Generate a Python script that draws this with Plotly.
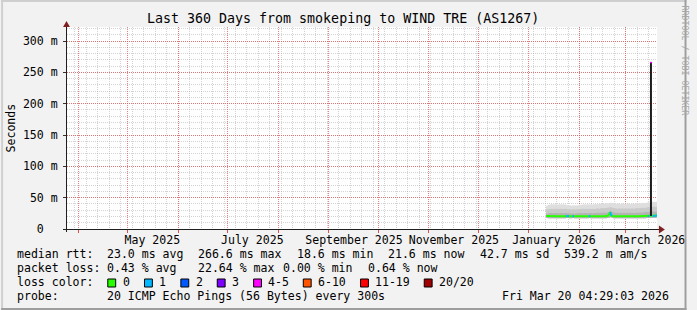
import plotly.graph_objects as go
import pandas as pd

# ---------------- data ----------------
# daily values from 2026-01-11 to 2026-03-20 (median RTT in ms, lost pings of 20)
median = [20.6, 20.4, 20.3, 20.2, 20.3, 20.4, 20.2, 20.3, 20.2, 20.3, 20.4, 20.3, 20.5, 20.6, 20.4, 20.3, 20.5, 20.3, 20.2, 20.3, 20.4,
          20.3, 20.2, 20.3, 20.4, 20.3, 20.6, 20.4, 20.3, 20.2, 20.3, 20.4, 20.3, 20.2, 20.3, 20.4, 20.3, 20.5, 21.5, 26.8, 21.0, 20.4, 20.3, 20.2, 20.3, 20.4, 20.3, 20.2, 20.3,
          20.4, 20.3, 20.2, 20.3, 20.4, 20.3, 20.2, 20.3, 20.4, 20.3, 20.2, 20.3, 20.5, 20.7, 20.5, 20.8, 20.9, 20.8, 21.0, 21.6]
loss = [0, 0, 0, 0, 0, 0, 0, 0, 0, 0, 0, 0, 1, 1, 0, 0, 1, 0, 0, 0, 0,
        0, 0, 0, 0, 0, 1, 0, 0, 0, 0, 0, 0, 0, 0, 0, 0, 0, 0, 1, 0, 0, 0, 0, 0, 0, 0, 0, 0,
        0, 0, 0, 0, 0, 0, 0, 0, 0, 0, 0, 0, 0, 1, 0, 0, 1, 1, 1, 1]
smoke_hi = [37.0, 38.5, 39.0, 39.5, 39.0, 39.5, 39.5, 39.0, 39.5, 39.0, 39.5, 39.0, 38.5, 38.0, 38.0, 37.5, 37.5, 38.0, 37.5, 38.0, 38.5,
            38.5, 39.0, 39.5, 39.0, 39.5, 39.0, 39.5, 39.0, 39.5, 40.0, 39.5, 40.0, 40.5, 40.0, 40.5, 41.0, 41.5, 41.0, 42.0, 41.5, 41.0, 40.5, 40.0, 40.5, 40.0, 40.5, 40.0, 40.5,
            40.0, 40.5, 40.0, 40.5, 40.0, 40.5, 41.0, 40.5, 41.0, 41.5, 41.0, 41.5, 42.0, 42.5, 42.0, 43.0, 43.5, 43.0, 43.5, 43.0]
smoke_p2 = [31.0, 31.5, 32.0, 32.5, 32.0, 32.5, 32.0, 32.5, 32.0, 32.5, 32.0, 32.5, 32.0, 31.5, 31.5, 31.0, 31.5, 31.0, 31.5, 31.5, 32.0,
            32.0, 32.5, 32.0, 32.5, 32.0, 32.5, 32.0, 32.5, 32.0, 32.5, 33.0, 32.5, 33.0, 33.5, 33.0, 33.5, 34.0, 34.5, 35.0, 34.0, 33.5, 33.0, 32.5, 33.0, 32.5, 33.0, 32.5, 33.0,
            32.5, 33.0, 32.5, 33.0, 32.5, 33.0, 33.5, 33.0, 33.5, 34.0, 33.5, 34.0, 34.5, 35.0, 34.5, 35.0, 35.5, 35.0, 35.5, 35.0]
smoke_p3 = [24.5, 25.0, 25.5, 25.5, 25.0, 25.5, 25.5, 25.0, 25.5, 25.5, 25.0, 25.5, 25.5, 25.0, 25.0, 24.5, 25.0, 24.5, 25.0, 25.0, 25.5,
            25.5, 25.0, 25.5, 25.5, 25.0, 25.5, 25.5, 25.0, 25.5, 25.5, 26.0, 25.5, 26.0, 26.0, 26.5, 26.0, 26.5, 27.0, 29.0, 27.0, 26.5, 26.0, 26.0, 25.5, 26.0, 25.5, 26.0, 25.5,
            26.0, 25.5, 26.0, 26.0, 25.5, 26.0, 26.0, 26.5, 26.0, 26.5, 26.5, 27.0, 27.0, 27.5, 27.0, 28.0, 28.0, 27.5, 28.0, 28.0]
smoke_lo = [17.5, 17.3, 17.2, 17.1, 17.2, 17.3, 17.1, 17.2, 17.1, 17.2, 17.3, 17.2, 17.4, 17.5, 17.3, 17.2, 17.4, 17.2, 17.1, 17.2, 17.3,
            17.2, 17.1, 17.2, 17.3, 17.2, 17.5, 17.3, 17.2, 17.1, 17.2, 17.3, 17.2, 17.1, 17.2, 17.3, 17.2, 17.4, 17.8, 18.6, 17.9, 17.3, 17.2, 17.1, 17.2, 17.3, 17.2, 17.1, 17.2,
            17.3, 17.2, 17.1, 17.2, 17.3, 17.2, 17.1, 17.2, 17.3, 17.2, 17.1, 17.2, 17.4, 17.6, 17.4, 17.7, 17.8, 17.7, 17.9, 18.6]
first_day = "2026-01-11 12:00"

spike_date = "2026-03-16 12:00"
spike_bottom = 20.8
spike_top = 266.6
spike_class = 4

x_start = "2025-03-25 04:29:03"
x_end = "2026-03-20 04:29:03"
month_ticks = ["2025-04-01", "2025-05-01", "2025-06-01", "2025-07-01", "2025-08-01", "2025-09-01",
               "2025-10-01", "2025-11-01", "2025-12-01", "2026-01-01", "2026-02-01", "2026-03-01"]
month_labels = ["", "May 2025", "", "July 2025", "", "September 2025",
                "", "November 2025", "", "January 2026", "", "March 2026"]
y_tickvals = [0, 50, 100, 150, 200, 250, 300]
y_ticktext = ["0\u00a0\u00a0", "50 m", "100 m", "150 m", "200 m", "250 m", "300 m"]

loss_labels = ["0", "1", "2", "3", "4-5", "6-10", "11-19", "20/20"]
loss_colors = ["#26ff00", "#00b8ff", "#0059ff", "#7e00ff", "#ff00ff", "#ff5500", "#ff0000", "#a10000"]

title_text = "Last 360 Days from smokeping to WIND TRE (AS1267)"
rtt_items = ["median rtt:", "23.0 ms avg", "266.6 ms max", "18.6 ms min", "21.6 ms now", "42.7 ms sd", "539.2 m am/s"]
loss_items = ["packet loss:", "0.43 % avg", "22.64 % max", "0.00 % min", "0.64 % now"]
probe_items = ["probe:", "20 ICMP Echo Pings (56 Bytes) every 300s", "Fri Mar 20 04:29:03 2026"]

# ---------------- layout geometry ----------------
W, H = 697, 310
L, R, T, B = 67, 30, 27, 81
PW, PH = W - L - R, H - T - B
YMAX = PH * 300.0 / 188.0

def px(x):
    return (x - L) / PW

def py(y):
    return (T + PH - y) / PH

MONO = "DejaVu Sans Mono"
FS = 11.55
GRID = "rgba(150,150,150,0.42)"
MGRID = "rgba(222,79,79,0.7)"

dates = pd.date_range(first_day, periods=len(median), freq="D")

fig = go.Figure()

# smoke bands
bands = [(smoke_hi, "#dedede"), (smoke_p2, "#cacaca"), (smoke_p3, "#b4b4b4")]
for top, col in bands:
    fig.add_trace(go.Scatter(x=dates, y=smoke_lo, mode="lines", line=dict(width=0, shape="hv"),
                             hoverinfo="skip", showlegend=False))
    fig.add_trace(go.Scatter(x=dates, y=top, mode="lines", line=dict(width=0, shape="hv"),
                             fill="tonexty", fillcolor=col, hoverinfo="skip", showlegend=False))

# median line, coloured by loss
fig.add_trace(go.Scatter(x=dates, y=median, mode="lines", line=dict(color=loss_colors[0], width=2),
                         hoverinfo="skip", showlegend=False))
for c in range(1, len(loss_colors)):
    xs, ys = [], []
    for i in range(len(median)):
        if loss[i] == c:
            j = min(i + 1, len(median) - 1)
            xs += [dates[i], dates[j], None]
            ys += [median[i], median[j], None]
    if xs:
        fig.add_trace(go.Scatter(x=xs, y=ys, mode="lines", line=dict(color=loss_colors[c], width=2),
                                 hoverinfo="skip", showlegend=False))

# spike
fig.add_trace(go.Scatter(x=[spike_date, spike_date], y=[spike_bottom, spike_top], mode="lines",
                         line=dict(color="#1c1c1c", width=2), hoverinfo="skip", showlegend=False))
fig.add_trace(go.Scatter(x=[spike_date, spike_date], y=[spike_top - 2.0, spike_top], mode="lines",
                         line=dict(color=loss_colors[spike_class], width=2), hoverinfo="skip", showlegend=False))

shapes = []
# 3D border
shapes.append(dict(type="rect", xref="paper", yref="paper", x0=px(0), x1=px(2), y0=py(310), y1=py(0),
                   fillcolor="#cfcfcf", line=dict(width=0), layer="above"))
shapes.append(dict(type="rect", xref="paper", yref="paper", x0=px(0), x1=px(697), y0=py(2), y1=py(0),
                   fillcolor="#cfcfcf", line=dict(width=0), layer="above"))
shapes.append(dict(type="rect", xref="paper", yref="paper", x0=px(695), x1=px(697), y0=py(310), y1=py(0),
                   fillcolor="#9e9e9e", line=dict(width=0), layer="above"))
shapes.append(dict(type="rect", xref="paper", yref="paper", x0=px(0), x1=px(697), y0=py(310), y1=py(308),
                   fillcolor="#9e9e9e", line=dict(width=0), layer="above"))
# axis lines
shapes.append(dict(type="line", xref="paper", yref="paper", x0=px(63), x1=px(670), y0=py(229.5), y1=py(229.5),
                   line=dict(color="#1f1f1f", width=1), layer="above"))
shapes.append(dict(type="line", xref="paper", yref="paper", x0=px(66.5), x1=px(66.5), y0=py(232), y1=py(25),
                   line=dict(color="#1f1f1f", width=1), layer="above"))
# arrows
shapes.append(dict(type="path", xref="paper", yref="paper",
                   path="M %f %f L %f %f L %f %f Z" % (px(669), py(225.5), px(675), py(229.5), px(669), py(233.5)),
                   fillcolor="#801f1f", line=dict(width=0), layer="above"))
shapes.append(dict(type="path", xref="paper", yref="paper",
                   path="M %f %f L %f %f L %f %f Z" % (px(63), py(27), px(66.5), py(21), px(70), py(27)),
                   fillcolor="#801f1f", line=dict(width=0), layer="above"))

annotations = []

def text(x, y, s, anchor="left", size=FS, color="black", angle=0):
    annotations.append(dict(x=px(x), y=py(y), xref="paper", yref="paper", text=s, showarrow=False,
                            xanchor=anchor, yanchor="middle", borderpad=0, textangle=angle,
                            font=dict(family=MONO, size=size, color=color)))

text(347.5, 18.6, title_text, anchor="center", size=13.3)
text(10.5, 128, "Seconds", anchor="center", angle=-90)
text(695, 60, "RRDTOOL / TOBI OETIKER", anchor="center", size=8.3, color="#a8a8a8", angle=90)

rtt_x = [15.5, 106.7, 199.7, 299.7, 392.7, 485.6, 571.6]
for xx, s in zip(rtt_x, rtt_items):
    text(xx, 253.7, s)
loss_x = [15.5, 106.7, 199.7, 285.5, 371.7]
for xx, s in zip(loss_x, loss_items):
    text(xx, 267.7, s)
text(15.5, 281.7, "loss color:")
box_x = [108.5, 145.8, 182.8, 219.8, 256.8, 307.3, 365.5, 430.3]
for bx, lab, col in zip(box_x, loss_labels, loss_colors):
    shapes.append(dict(type="rect", xref="paper", yref="paper", x0=px(bx), x1=px(bx + 8), y0=py(287), y1=py(279),
                       fillcolor=col, line=dict(color="black", width=1), layer="above"))
    text(bx + 14, 281.7, lab)
text(15.5, 295.5, probe_items[0])
text(107.0, 295.5, probe_items[1])
text(680.7, 295.5, probe_items[2], anchor="right")

fig.update_layout(
    width=W, height=H, margin=dict(l=L, r=R, t=T, b=B, pad=0),
    paper_bgcolor="#f2f2f2", plot_bgcolor="#ffffff",
    showlegend=False, shapes=shapes, annotations=annotations,
    xaxis=dict(type="date", range=[x_start, x_end], tickmode="array", tickvals=month_ticks, ticktext=month_labels,
               ticks="outside", ticklen=3, tickwidth=1, tickcolor="rgb(222,79,79)", ticklabelshift=25,
               ticklabelstandoff=-3,
               showgrid=True, gridcolor=MGRID, griddash="1px,1px", gridwidth=1,
               minor=dict(dtick=7 * 86400000, tick0="2025-03-30", showgrid=True, gridcolor=GRID,
                          griddash="1px,1px", gridwidth=1, ticks=""),
               showline=False, zeroline=False, fixedrange=True,
               tickfont=dict(family=MONO, size=FS, color="black")),
    yaxis=dict(range=[0, YMAX], tickmode="array", tickvals=y_tickvals, ticktext=y_ticktext,
               ticks="outside", ticklen=3, tickwidth=1, tickcolor="#333333", ticklabelstandoff=3,
               showgrid=True, gridcolor=MGRID, griddash="1px,1px", gridwidth=1,
               minor=dict(dtick=10, showgrid=True, gridcolor=GRID, griddash="1px,1px", gridwidth=1, ticks=""),
               showline=False, zeroline=False, fixedrange=True,
               tickfont=dict(family=MONO, size=FS, color="black")),
)

fig.write_html("out.html")
